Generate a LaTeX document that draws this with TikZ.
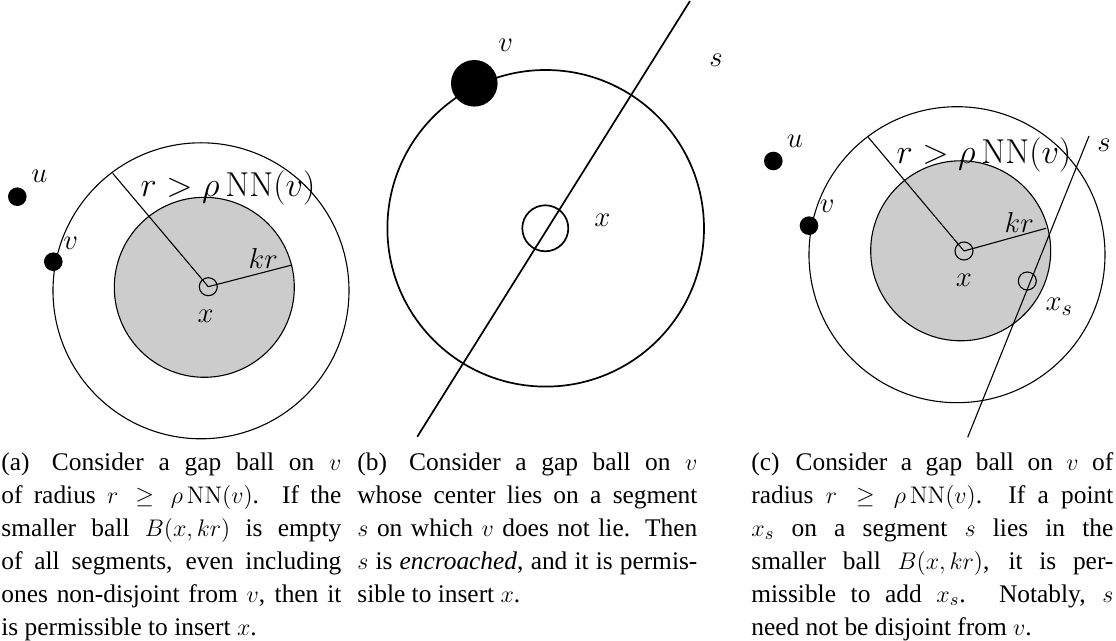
\documentclass[tikz,border=0pt]{standalone}
\usepackage[no-math]{fontspec}
\setmainfont{Liberation Serif}
\begin{document}
\begin{tikzpicture}[x=0.5pt,y=-0.5pt,
  thinline/.style={line width=0.55pt},
  thickline/.style={line width=0.85pt},
  lab/.style={font=\fontsize{15.5}{17}\selectfont, inner sep=0pt},
  biglab/.style={font=\fontsize{16.5}{18}\selectfont, inner sep=0pt},
  blackdot/.style={circle, fill=black, inner sep=0pt, minimum size=9.3pt},
  bigdot/.style={circle, fill=black, inner sep=0pt, minimum size=23.3pt},
  ring/.style={circle, draw, thinline, inner sep=0pt, minimum size=9pt},
  bigring/.style={circle, draw, thickline, inner sep=0pt, minimum size=23pt},
  captxt/.style={anchor=north west, inner sep=0pt, text width=170pt, align=justify,
    font=\fontsize{12.7}{16.5}\selectfont}
]
\useasboundingbox (0,0) rectangle (1116,641);

% ---------------- panel (a)
\coordinate (Ao) at (201,290.8);
\coordinate (Ag) at (204.3,287.3);
\draw[thinline] (Ao) circle (148);
\draw[thinline, fill=gray!40] (Ag) circle (90);
\node[ring] (Ax) at (208.3,286.7) {};
\coordinate (Ar) at (112.7,173.3);
\coordinate (Ak) at (292,265);
\draw[thinline] (Ax.center) -- (Ar);
\draw[thinline] (Ax.center) -- (Ak);
\node[blackdot] (Au) at (17.3,196.7) {};
\node[blackdot] (Av) at (53.3,261.7) {};
\node[lab] (Aul) at (39.3,176.7) {$u$};
\node[lab] (Avl) at (70.7,243.3) {$v$};
\node[biglab] (Arl) at (228,188) {$r > \rho\,\mathrm{NN}(v)$};
\node[lab] (Akl) at (263.3,258.3) {$kr$};
\node[lab] (Axl) at (205.7,316.7) {$x$};

% ---------------- panel (b)
\coordinate (Bo) at (545.7,228.3);
\draw[thickline] (Bo) circle (158.3);
\node[bigring] (Bx) at (545.3,228.3) {};
\node[bigdot] (Bv) at (474.3,83.3) {};
\coordinate (Bs1) at (690,1);
\coordinate (Bs2) at (417.3,436.7);
\draw[thickline] (Bs1) -- (Bs2);
\node[lab] (Bvl) at (505.7,45) {$v$};
\node[lab] (Bsl) at (716,60) {$s$};
\node[lab] (Bxl) at (602.3,220) {$x$};

% ---------------- panel (c)
\coordinate (Co) at (957,254.7);
\coordinate (Cg) at (960.7,250.8);
\draw[thinline] (Co) circle (148);
\draw[thinline, fill=gray!40] (Cg) circle (90);
\node[ring] (Cx) at (964,251) {};
\coordinate (Cr) at (868.3,137.3);
\coordinate (Ck) at (1046,228.3);
\draw[thinline] (Cx.center) -- (Cr);
\draw[thinline] (Cx.center) -- (Ck);
\coordinate (Cs1) at (1089,136);
\coordinate (Cs2) at (967.7,437.3);
\draw[thinline] (Cs1) -- (Cs2);
\node[ring] (Cxs) at (1027.3,281) {};
\node[blackdot] (Cu) at (773.3,161) {};
\node[blackdot] (Cv) at (809,225.7) {};
\node[lab] (Cul) at (795,141.7) {$u$};
\node[lab] (Cvl) at (827.3,206) {$v$};
\node[lab] (Csl) at (1104,145) {$s$};
\node[biglab] (Crl) at (984,155) {$r > \rho\,\mathrm{NN}(v)$};
\node[lab] (Ckl) at (1019.3,222.7) {$kr$};
\node[lab] (Cxl) at (964,280) {$x$};
\node[lab] (Cxsl) at (1059.3,306.7) {$x_s$};

% ---------------- captions
\node[captxt] (capa) at (1,452) {(a)\hspace{0.3em} Consider a gap ball on $v$\linebreak
of radius $r \ge \rho\,\mathrm{NN}(v)$. If the\linebreak
smaller ball $B(x,kr)$ is empty\linebreak
of all segments, even including\linebreak
ones non-disjoint from $v$, then it\linebreak
is permissible to insert $x$.};
\node[captxt] (capb) at (357,452) {(b)\hspace{0.3em} Consider a gap ball on $v$\linebreak
whose center lies on a segment\linebreak
$s$ on which $v$ does not lie. Then\linebreak
$s$ is \emph{encroached}, and it is permis-\linebreak
sible to insert $x$.};
\node[captxt, text width=181pt] (capc) at (751,452) {(c)\hspace{0.1em} Consider a gap ball on $v$ of\linebreak
radius $r \ge \rho\,\mathrm{NN}(v)$. If a point\linebreak
$x_s$ on a segment $s$ lies in the\linebreak
smaller ball $B(x,kr)$, it is per-\linebreak
missible to add $x_s$. Notably, $s$\linebreak
need not be disjoint from $v$.};
\end{tikzpicture}
\end{document}
